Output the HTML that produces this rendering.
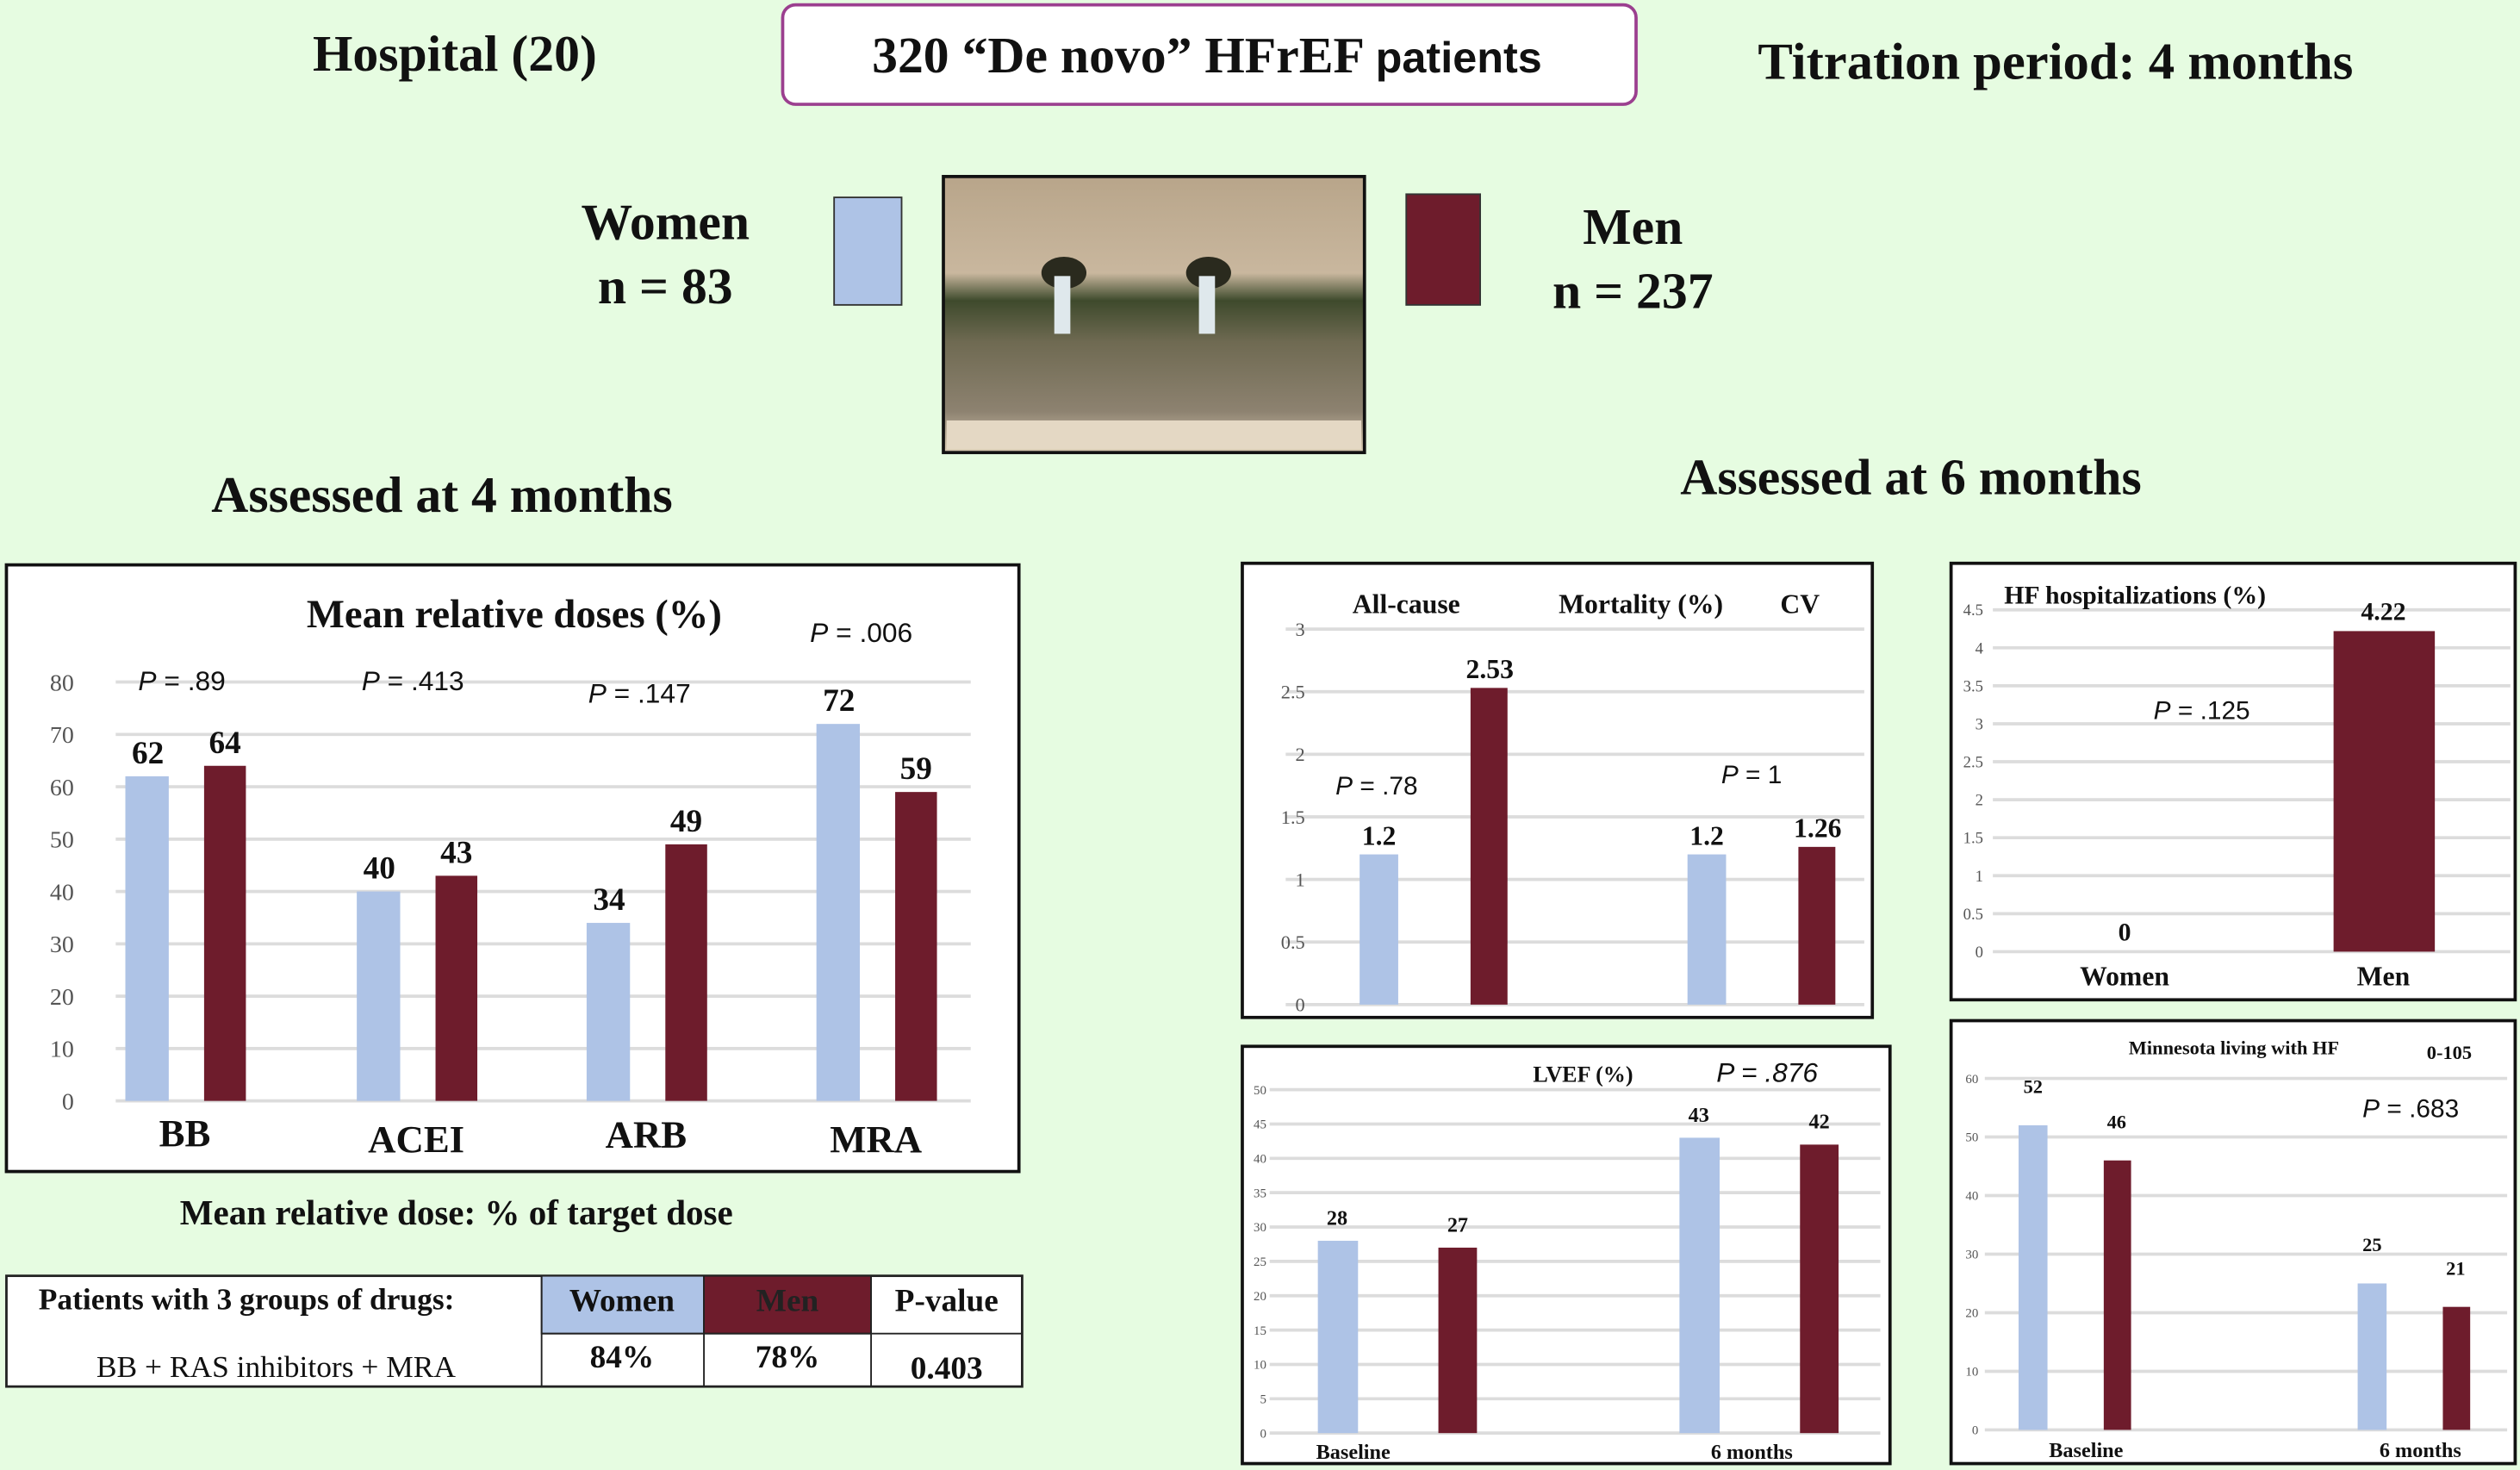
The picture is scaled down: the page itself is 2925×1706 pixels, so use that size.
<!DOCTYPE html>
<html><head><meta charset="utf-8">
<style>
html,body{margin:0;padding:0;background:#e6fce1;overflow:hidden}
svg{display:block}
.ser{font-family:"Liberation Serif",serif;font-weight:bold;fill:#111}
.san{font-family:"Liberation Sans",sans-serif;fill:#111}
.tk{font-family:"Liberation Serif",serif;fill:#555}
</style></head>
<body>
<svg id="s" width="2925" height="1706" viewBox="0 0 1568 916" preserveAspectRatio="none" xmlns="http://www.w3.org/2000/svg">
<rect x="0" y="0" width="1568" height="916" fill="#e6fce1"/>
<text x="283" y="44" text-anchor="middle" class="ser" font-size="32">Hospital (20)</text>
<rect x="487" y="3" width="531" height="62" rx="8" fill="#fff" stroke="#9b3f8f" stroke-width="2"/>
<text x="751" y="45" text-anchor="middle" font-size="32"><tspan class="ser">320 “De novo” HFrEF </tspan><tspan class="san" font-weight="bold" font-size="27">patients</tspan></text>
<text x="1279" y="49" text-anchor="middle" class="ser" font-size="32.5">Titration period: 4 months</text>
<text x="414" y="149" text-anchor="middle" class="ser" font-size="32">Women</text>
<text x="414" y="189" text-anchor="middle" class="ser" font-size="32">n = 83</text>
<rect x="519" y="123" width="42" height="67" fill="#aec3e6" stroke="#333" stroke-width="1"/>
<g>
<defs><linearGradient id="wall" x1="0" y1="0" x2="0" y2="1"><stop offset="0" stop-color="#b8a58a"/><stop offset="0.35" stop-color="#c9b79e"/><stop offset="0.45" stop-color="#3e4a2c"/><stop offset="0.6" stop-color="#6f6a52"/><stop offset="0.85" stop-color="#8d8270"/><stop offset="1" stop-color="#d9cbb3"/></linearGradient></defs>
<rect x="587" y="110" width="262" height="172" fill="url(#wall)" stroke="#111" stroke-width="2"/>
<ellipse cx="662" cy="170" rx="14" ry="10" fill="#2a2a1e"/><ellipse cx="752" cy="170" rx="14" ry="10" fill="#2a2a1e"/>
<rect x="656" y="172" width="10" height="36" fill="#dfe8ec"/><rect x="746" y="172" width="10" height="36" fill="#dfe8ec"/>
<rect x="589" y="262" width="258" height="18" fill="#e4d8c4"/>
</g>
<rect x="875" y="121" width="46" height="69" fill="#6e1c2c" stroke="#333" stroke-width="1"/>
<text x="1016" y="152" text-anchor="middle" class="ser" font-size="32">Men</text>
<text x="1016" y="192" text-anchor="middle" class="ser" font-size="32">n = 237</text>
<text x="275" y="319" text-anchor="middle" class="ser" font-size="32">Assessed at 4 months</text>
<text x="1189" y="308" text-anchor="middle" class="ser" font-size="32">Assessed at 6 months</text>
<text x="284" y="763" text-anchor="middle" class="ser" font-size="22">Mean relative dose: % of target dose</text>
<g>
<rect x="4" y="795" width="632" height="69" fill="#fff" stroke="#222" stroke-width="1.5"/>
<rect x="337" y="795" width="101" height="36" fill="#aec3e6" stroke="#222"/>
<rect x="438" y="795" width="104" height="36" fill="#6e1c2c" stroke="#222"/>
<line x1="337" y1="831" x2="636" y2="831" stroke="#222"/>
<line x1="337" y1="795" x2="337" y2="864" stroke="#222"/><line x1="438" y1="795" x2="438" y2="864" stroke="#222"/><line x1="542" y1="795" x2="542" y2="864" stroke="#222"/>
<text x="24" y="816" class="ser" font-size="19">Patients with  3 groups  of drugs:</text>
<text x="60" y="858" font-family="Liberation Serif,serif" font-size="19" fill="#111">BB + RAS inhibitors + MRA</text>
<text x="387" y="817" text-anchor="middle" class="ser" font-size="20" fill="#222">Women</text>
<text x="490" y="817" text-anchor="middle" font-family="Liberation Serif,serif" font-weight="bold" font-size="20" fill="#222">Men</text>
<text x="589" y="817" text-anchor="middle" class="ser" font-size="20">P-value</text>
<text x="387" y="852" text-anchor="middle" class="ser" font-size="20">84%</text>
<text x="490" y="852" text-anchor="middle" class="ser" font-size="20">78%</text>
<text x="589" y="859" text-anchor="middle" class="ser" font-size="20">0.403</text>
</g>
<g id="charts"></g>
</svg>
<script>
// Chart A: mean relative doses
const doseCats = ["BB","ACEI","ARB","MRA"];
const doseWomen = [62,40,34,72];
const doseMen = [64,43,49,59];
const doseTicks = [0,10,20,30,40,50,60,70,80];
const doseP = ["P = .89","P = .413","P = .147","P = .006"];
// Chart B: mortality
const mortCats = ["All-cause","CV"];
const mortWomen = [1.2,1.2];
const mortMen = [2.53,1.26];
const mortTicks = [0,0.5,1,1.5,2,2.5,3];
const mortTickLabels = ["0","0.5","1","1.5","2","2.5","3"];
// Chart C: HF hospitalizations
const hospCats = ["Women","Men"];
const hospVals = [0,4.22];
const hospTicks = [0,0.5,1,1.5,2,2.5,3,3.5,4,4.5];
// Chart D: LVEF
const lvefCats = ["Baseline","6 months"];
const lvefWomen = [28,43];
const lvefMen = [27,42];
const lvefTicks = [0,5,10,15,20,25,30,35,40,45,50];
// Chart E: Minnesota
const mlCats = ["Baseline","6 months"];
const mlWomen = [52,25];
const mlMen = [46,21];
const mlTicks = [0,10,20,30,40,50,60];

const NS="http://www.w3.org/2000/svg";
const root=document.getElementById('charts');
function mk(tag,attrs,parent,text){const e=document.createElementNS(NS,tag);for(const k in attrs)e.setAttribute(k,attrs[k]);if(text!==undefined)e.textContent=text;(parent||root).appendChild(e);return e;}
const BLUE="#aec3e6",RED="#6e1c2c";
function scale(y0,y1,vmax){return v=>y0-(v/vmax)*(y0-y1);}
function box(x,y,w,h,name){const g=mk('g',{});mk('rect',{x:x,y:y,width:w,height:h,fill:'#fff',stroke:'#111','stroke-width':2},g);return g;}
function grid(g,ticks,ys,x0,x1,lx,fs,labels){ticks.forEach((t,i)=>{const y=ys(t);const l=mk('line',{x1:x0,x2:x1,y1:y,y2:y,stroke:'#dcdcdc','stroke-width':2},g);const tx=mk('text',{x:lx,y:y+fs*0.35,'text-anchor':'end',class:'tk','font-size':fs},g,labels?labels[i]:String(t));});}
function bar(g,x,w,v,ys,fill,name){const y=ys(v),y0=ys(0);const r=mk('rect',{x:x,y:y,width:w,height:Math.max(0,y0-y),fill:fill},g);return y;}
function lbl(g,x,y,t,fs,name,cls){const e=mk('text',{x:x,y:y,'text-anchor':'middle',class:cls||'ser','font-size':fs},g,t);return e;}
function pval(g,x,y,t,fs){const e=mk('text',{x:x,y:y,class:'san','font-size':fs},g);const a=mk('tspan',{'font-style':'italic'},e,'P');mk('tspan',{},e,t.slice(1));return e;}

// A
{const g=box(4,352,630,378,'dose-chart');const ys=scale(686,425,80);
grid(g,doseTicks,ys,72,604,46,15);
lbl(g,320,391,'Mean relative doses (%)',25,'chart-title');
const bx=[78,222,365,508],px=[86,225,366,504],py=[430,430,438,400];
doseCats.forEach((c,i)=>{const yb=bar(g,bx[i],27,doseWomen[i],ys,BLUE,'bar-women-'+c.toLowerCase());lbl(g,bx[i]+14,yb-8,String(doseWomen[i]),20,'value-label');
const ym=bar(g,bx[i]+49,26,doseMen[i],ys,RED,'bar-men-'+c.toLowerCase());lbl(g,bx[i]+62,ym-8,String(doseMen[i]),20,'value-label');
lbl(g,bx[i]+37,[714,718,715,718][i],c,24,'x-label');pval(g,px[i],py[i],doseP[i],17);});}
// B
{const g=box(773,351,392,283,'mortality-chart');const ys=scale(626,392,3);
grid(g,mortTicks,ys,800,1160,812,12,mortTickLabels);
lbl(g,875,382,'All-cause',17,'chart-title');lbl(g,1021,382,'Mortality (%)',17,'chart-title');lbl(g,1120,382,'CV',17,'chart-title');
const bx=[846,1050];mortCats.forEach((c,i)=>{const yb=bar(g,bx[i],24,mortWomen[i],ys,BLUE,'bar-women-'+c.toLowerCase());lbl(g,bx[i]+12,yb-6,String(mortWomen[i]),17,'value-label');
const ym=bar(g,bx[i]+69,23,mortMen[i],ys,RED,'bar-men-'+c.toLowerCase());lbl(g,bx[i]+81,ym-6,String(mortMen[i]),17,'value-label');});
pval(g,831,495,'P = .78',16);pval(g,1071,488,'P = 1',16);}
// C
{const g=box(1214,351,351,272,'hf-hosp-chart');const ys=scale(593,380,4.5);
grid(g,hospTicks,ys,1240,1562,1234,10);
mk('text',{x:1247,y:376,class:'ser','font-size':16},g,'HF  hospitalizations (%)');
const bx=[1291,1452];hospCats.forEach((c,i)=>{const y=bar(g,bx[i],63,hospVals[i],ys,i?RED:BLUE,'bar-'+c.toLowerCase());lbl(g,bx[i]+31,y-7,String(hospVals[i]),16,'value-label');lbl(g,bx[i]+31,614,c,17,'x-label');});
pval(g,1340,448,'P = .125',16);}
// D
{const g=box(773,652,403,260,'lvef-chart');const ys=scale(893,679,50);
grid(g,lvefTicks,ys,790,1170,788,8);
lbl(g,985,674,'LVEF (%)',14,'chart-title');
const e=mk('text',{x:1068,y:674,class:'san','font-size':17,'font-style':'italic'},g,'P = .876');
const bx=[820,1045];lvefCats.forEach((c,i)=>{const yb=bar(g,bx[i],25,lvefWomen[i],ys,BLUE,'bar-women-'+i);lbl(g,bx[i]+12,yb-10,String(lvefWomen[i]),13,'value-label');
const ym=bar(g,bx[i]+75,24,lvefMen[i],ys,RED,'bar-men-'+i);lbl(g,bx[i]+87,ym-10,String(lvefMen[i]),13,'value-label');lbl(g,bx[i]+[22,45][i],909,c,13,'x-label');});}
// E
{const g=box(1214,636,351,276,'minnesota-chart');const ys=scale(891,672,60);
grid(g,mlTicks,ys,1235,1560,1231,8);
lbl(g,1390,657,'Minnesota living with HF',12,'chart-title');lbl(g,1524,660,'0-105',12,'chart-title');
pval(g,1470,696,'P = .683',16);
const bx=[1256,1467];mlCats.forEach((c,i)=>{const yb=bar(g,bx[i],18,mlWomen[i],ys,BLUE,'bar-women-'+i);lbl(g,bx[i]+9,yb-20,String(mlWomen[i]),12,'value-label');
const ym=bar(g,bx[i]+53,17,mlMen[i],ys,RED,'bar-men-'+i);lbl(g,bx[i]+61,ym-20,String(mlMen[i]),12,'value-label');lbl(g,bx[i]+[42,39][i],908,c,13,'x-label');});}
</script>
</body></html>
